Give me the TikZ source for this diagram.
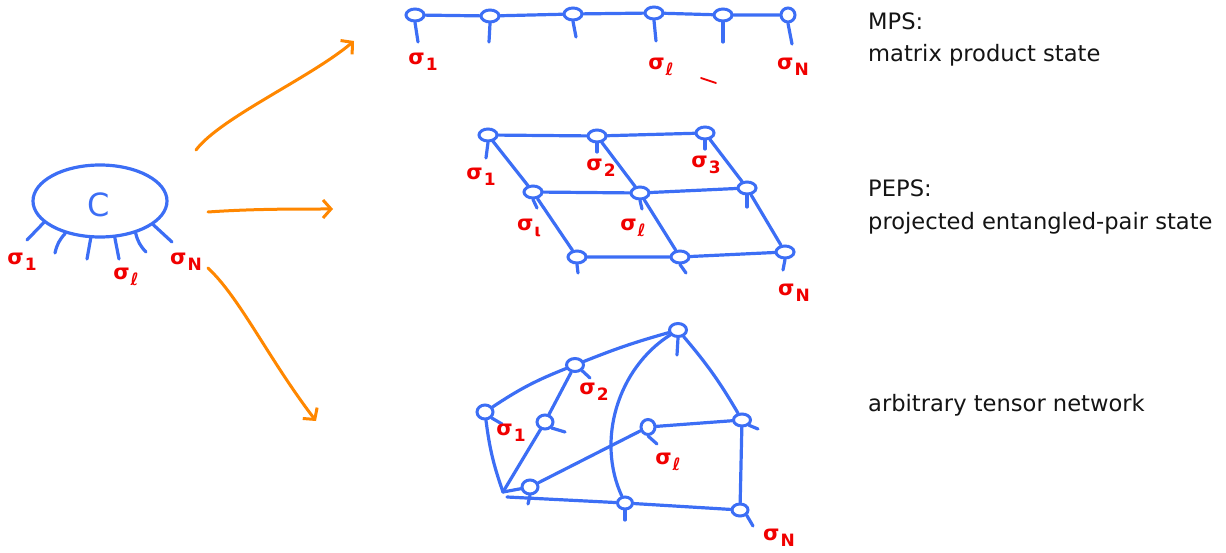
\documentclass[tikz,border=0pt]{standalone}
\usepackage{fontspec}
\setmainfont{DejaVu Sans}
\usetikzlibrary{shapes.geometric,arrows.meta}
\definecolor{tnblue}{RGB}{60,110,245}
\definecolor{arrorange}{RGB}{255,135,0}
\definecolor{labred}{RGB}{240,0,0}
\newcommand\sg[1]{σ\kern1pt\raisebox{-0.5ex}{\fontsize{17}{17}\selectfont #1}}
\tikzset{
  pen/.style={draw=tnblue, line width=3.2pt, line cap=round, line join=round},
  site/.style={ellipse, draw=tnblue, line width=3pt, minimum width=18pt, minimum height=12pt, inner sep=0pt},
  leg/.style={draw=tnblue, line width=3.2pt, line cap=round},
  lab/.style={text=labred, font=\fontsize{21}{21}\selectfont\bfseries, inner sep=0pt},
  arr/.style={draw=arrorange, line width=3pt, line cap=round, line join=round, -{Straight Barb[length=8pt,width=18pt,line width=3pt]}},
  txt/.style={anchor=base west, inner sep=0pt, font=\fontsize{22.6}{33}\selectfont, text=black!92}
}
\begin{document}
\begin{tikzpicture}[x=1pt,y=-1pt]
\useasboundingbox (0,0) rectangle (1226,553);
% ---------------- left tensor C
\node[ellipse, draw=tnblue, line width=3.2pt, minimum width=134pt, minimum height=72pt, inner sep=0pt] (C) at (100,201) {};
\node[text=tnblue, font=\fontsize{32}{32}\selectfont, inner sep=0pt] (Ctxt) at (99,205) {C};
\coordinate (cl1) at (27,240);
\coordinate (cl2) at (55,253);
\coordinate (cl3) at (87,259);
\coordinate (cl4) at (119,259);
\coordinate (cl5) at (146,252);
\coordinate (cl6) at (172,242);
\draw[leg] (C.201) -- (cl1);
\draw[leg] (C.223) to[bend right=15] (cl2);
\draw[leg] (C.256) -- (cl3);
\draw[leg] (C.292) -- (cl4);
\draw[leg] (C.318) to[bend right=15] (cl5);
\draw[leg] (C.336) -- (cl6);
\node[lab] (cs1) at (22,262) {\sg{1}};
\node[lab] (csl) at (126,277) {\sg{ℓ}};
\node[lab] (csN) at (186,262) {\sg{N}};
% ---------------- arrows
\coordinate (a1s) at (196,150);
\coordinate (a1e) at (354,41);
\coordinate (a2s) at (208,212);
\coordinate (a2e) at (333,209);
\coordinate (a3s) at (208,268);
\coordinate (a3e) at (316,421);
\draw[arr] (a1s) .. controls (220,118) and (310,78) .. (a1e);
\draw[arr] (a2s) .. controls (250,209) and (290,209) .. (a2e);
\draw[arr] (a3s) .. controls (240,298) and (268,358) .. (a3e);
% ---------------- MPS
\node[site] (m1) at (415,15) {};
\node[site] (m2) at (490,16) {};
\node[site] (m3) at (573,14) {};
\node[site] (m4) at (654,13) {};
\node[site] (m5) at (723,15) {};
\node[site, minimum width=14pt, minimum height=14pt] (m6) at (788,15) {};
\draw[pen] (m1) -- (m2) -- (m3) -- (m4) -- (m5) -- (m6);
\coordinate (ml1) at (418,42);
\coordinate (ml2) at (489,42);
\coordinate (ml3) at (576,37);
\coordinate (ml4) at (656,41);
\coordinate (ml5) at (723,42);
\coordinate (ml6) at (792,44);
\foreach \i in {1,...,6} \draw[leg] (m\i.south) -- (ml\i);
\node[lab] (ms1) at (423,62) {\sg{1}};
\node[lab] (msl) at (661,67) {\sg{ℓ}};
\node[lab] (msN) at (793,67) {\sg{N}};
\draw[labred, line width=1.8pt, line cap=round] (701,78) -- (716,83);
% ---------------- PEPS
\node[site] (p11) at (488,135) {};
\node[site] (p12) at (597,136) {};
\node[site] (p13) at (705,133) {};
\node[site] (p21) at (533,192) {};
\node[site] (p22) at (640,193) {};
\node[site] (p23) at (747,188) {};
\node[site] (p31) at (577,257) {};
\node[site] (p32) at (680,257) {};
\node[site] (p33) at (785,252) {};
\draw[pen] (p11) -- (p12) -- (p13);
\draw[pen] (p21) -- (p22) -- (p23);
\draw[pen] (p31) -- (p32) -- (p33);
\draw[pen] (p11) -- (p21) -- (p31);
\draw[pen] (p12) -- (p22) -- (p32);
\draw[pen] (p13) -- (p23) -- (p33);
\coordinate (pl11) at (486,158);
\coordinate (pl12) at (597,152);
\coordinate (pl13) at (705,149);
\coordinate (pl21) at (537,208);
\coordinate (pl22) at (642,209);
\coordinate (pl23) at (747,207);
\coordinate (pl31) at (578,273);
\coordinate (pl32) at (686,273);
\coordinate (pl33) at (783,270);
\foreach \i in {11,12,13,21,22,23,31,32,33} \draw[leg] (p\i.south) -- (pl\i);
\node[lab] (ps1) at (481,177) {\sg{1}};
\node[lab] (ps2) at (601,168) {\sg{2}};
\node[lab] (ps3) at (706,165) {\sg{3}};
\node[lab] (psi) at (529,228) {\sg{ι}};
\node[lab] (psl) at (633,228) {\sg{ℓ}};
\node[lab] (psN) at (794,293) {\sg{N}};
% ---------------- arbitrary tensor network
\node[site, minimum width=17pt, minimum height=13pt] (tA) at (678,330) {};
\node[site, minimum width=17pt, minimum height=13pt] (tB) at (575,365) {};
\node[site, minimum width=16pt, minimum height=14pt] (tC) at (485,412) {};
\node[site, minimum width=16pt, minimum height=14pt] (tD) at (545,422) {};
\node[site, minimum width=14pt, minimum height=15pt] (tE) at (648,427) {};
\node[site, minimum width=17pt, minimum height=12pt] (tF) at (742,420) {};
\node[site, minimum width=16pt, minimum height=14pt] (tG) at (530,487) {};
\node[site, minimum width=15pt, minimum height=12pt] (tH) at (625,503) {};
\node[site, minimum width=16pt, minimum height=12pt] (tI) at (740,510) {};
\coordinate (tK) at (503,492);
\coordinate (tK2) at (507,497);
\draw[pen] (tC) to[bend left=6] (tB);
\draw[pen] (tB) to[bend left=3] (tA);
\draw[pen] (tC) to[bend right=6] (tK);
\draw[pen] (tK) -- (tD) -- (tB);
\draw[pen] (tK) -- (tG) -- (tE);
\draw[pen] (tK2) -- (tH) -- (tI);
\draw[pen] (tA) .. controls (618,368) and (596,440) .. (tH);
\draw[pen] (tA) to[bend left=5] (tF);
\draw[pen] (tE) -- (tF);
\draw[pen] (tF) -- (tI);
\coordinate (tlA) at (677,355);
\coordinate (tlB) at (590,378);
\coordinate (tlC) at (502,424);
\coordinate (tlD) at (565,432);
\coordinate (tlE) at (657,444);
\coordinate (tlF) at (758,429);
\coordinate (tlG) at (528,504);
\coordinate (tlH) at (625,520);
\coordinate (tlI) at (753,526);
\draw[leg] (tA.south) -- (tlA);
\draw[leg] (tB.south east) -- (tlB);
\draw[leg] (tC.south east) -- (tlC);
\draw[leg] (tD.south east) -- (tlD);
\draw[leg] (tE.south) -- (tlE);
\draw[leg] (tF.south east) -- (tlF);
\draw[leg] (tG.south) -- (tlG);
\draw[leg] (tH.south) -- (tlH);
\draw[leg] (tI.south east) -- (tlI);
\node[lab] (ts1) at (511,433) {\sg{1}};
\node[lab] (ts2) at (594,392) {\sg{2}};
\node[lab] (tsl) at (668,462) {\sg{ℓ}};
\node[lab] (tsN) at (779,538) {\sg{N}};
% ---------------- captions
\node[txt] (t1) at (868,30) {MPS:};
\node[txt] (t2) at (868,62) {matrix product state};
\node[txt] (t3) at (868,197) {PEPS:};
\node[txt] (t4) at (868,230) {projected entangled-pair state};
\node[txt] (t5) at (868,411) {arbitrary tensor network};
\end{tikzpicture}
\end{document}
